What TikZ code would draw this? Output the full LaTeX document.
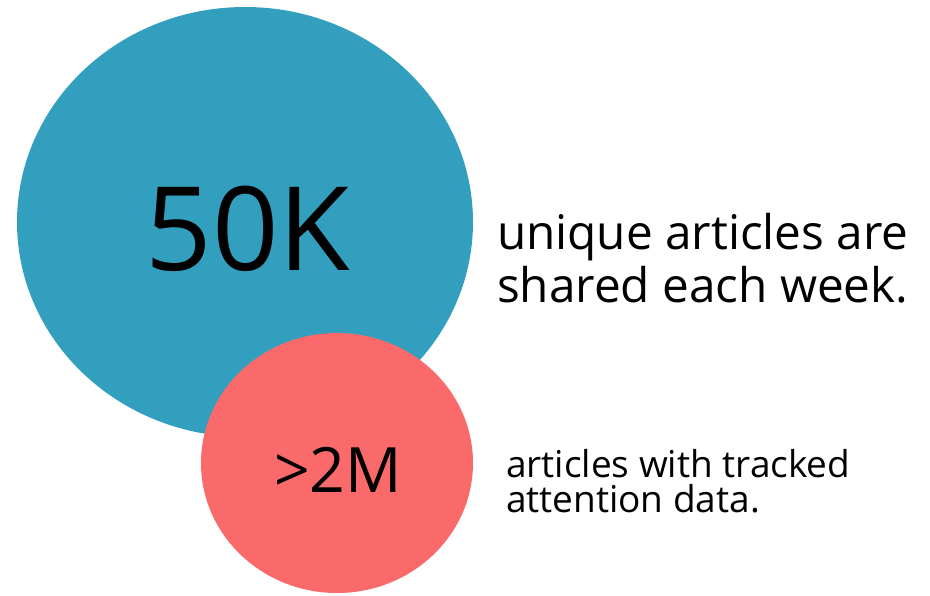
\documentclass[tikz,border=0pt]{standalone}
\usepackage{fontspec}
\setmainfont{Open Sans}
\definecolor{bigblue}{RGB}{50,159,191}
\definecolor{coral}{RGB}{251,106,106}
\begin{document}
\begin{tikzpicture}[x=1pt,y=1pt,
  lbl/.style={inner sep=0pt,outer sep=0pt,text=black}]
\useasboundingbox (0,0) rectangle (930,-595);
\fill[white] (0,0) rectangle (930,-595);
\fill[bigblue] (245,-222) ellipse [x radius=228, y radius=215];
\fill[coral] (337,-463) ellipse [x radius=136, y radius=130];
\node[lbl,anchor=base] (big) at (248,-270) {\fontsize{116.5}{128}\selectfont 50K};
\node[lbl,anchor=base] (small) at (338,-492) {\fontsize{62.5}{70}\selectfont >2M};
\node[lbl,anchor=base west] (t1) at (497,-249) {\fontsize{47.7}{53}\selectfont unique articles are};
\node[lbl,anchor=base west] (t2) at (497,-302) {\fontsize{47.7}{53}\selectfont shared each week.};
\node[lbl,anchor=base west] (t3) at (506,-477) {\fontsize{37}{35}\selectfont articles with tracked};
\node[lbl,anchor=base west] (t4) at (506,-512) {\fontsize{37}{35}\selectfont attention data.};
\end{tikzpicture}
\end{document}
